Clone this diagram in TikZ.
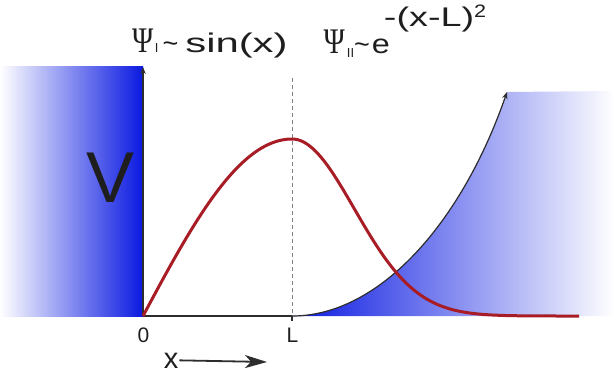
\documentclass[tikz,border=0pt]{standalone}
\usepackage{fontspec}
\usepackage{graphicx}
\setmainfont{Liberation Sans}
\newfontfamily\psifont{Liberation Serif}
\usetikzlibrary{arrows.meta}
\definecolor{wallblue}{RGB}{10,25,225}
\definecolor{psired}{RGB}{168,28,38}
\definecolor{axisgray}{RGB}{45,45,45}
\definecolor{txtgray}{RGB}{30,30,30}
\newcommand{\bigpsi}{{\psifont\fontsize{36}{36}\selectfont\scalebox{0.8}[1]{Ψ}}}
\begin{document}
\begin{tikzpicture}[x=1pt,y=-1pt,
  lbl/.style={inner sep=0pt, text=txtgray},
  axisline/.style={axisgray, line width=1.4pt},
  smalltip/.style={-{Stealth[length=7pt,width=5.5pt]}},
  wave/.style={psired, line width=3pt, line join=round}]
\useasboundingbox (0,0) rectangle (614,373);
% named points
\coordinate (O) at (143,316);
\coordinate (Ytop) at (143,67);
\coordinate (Lb) at (292,316);
\coordinate (Lt) at (292,78);
\coordinate (Ltick) at (292,321);
\coordinate (Tip) at (507,92);
\coordinate (Xend) at (267,362);
% left wall
\shade[left color=white, right color=wallblue] (0,66) rectangle (143,316);
% right wall under the curve
\shade[left color=wallblue, right color=white]
  (Lb) .. controls (380,316) and (462,222) .. (Tip) -- (614,91) -- (614,316) -- cycle;
% baseline and tick
\draw[axisline] (O) -- (Lb);
\draw[axisline] (Lb) -- (Ltick);
% dashed marker at L
\draw[gray, line width=0.7pt, dash pattern=on 4pt off 3pt] (Lt) -- (Lb);
% vertical axis
\draw[axisline, smalltip] (O) -- (Ytop);
% potential curve
\draw[axisline, line width=1.2pt, smalltip] (Lb) .. controls (380,316) and (462,222) .. (Tip);
% wave function
\draw[wave] plot[domain=143:292, samples=60] (\x, {316-177*sin((\x-143)/149*90)})
  -- plot[domain=292:579, samples=90] (\x, {316-177*exp(-((\x-292)/88)^2)});
% labels
\node[lbl, anchor=base west, font=\fontsize{27}{27}\selectfont] (t1) at (132,52)
  {\bigpsi\hspace{1.5pt}{\fontsize{13}{13}\selectfont I}\hspace{4pt}\textasciitilde\hspace{7pt}\scalebox{1.55}[1]{sin(x)}};
\node[lbl, anchor=base west, font=\fontsize{27}{27}\selectfont] (t2) at (323.5,53)
  {\bigpsi\hspace{2pt}\raisebox{-4pt}{\fontsize{13}{13}\selectfont II}\textasciitilde\hspace{2pt}\scalebox{1.2}[1]{e}\hspace{-6pt}\raisebox{27pt}{\scalebox{1.4}[1]{-(x-L)}\scalebox{1.2}[1]{\raisebox{9pt}{\fontsize{18}{18}\selectfont 2}}}};
\node[lbl, anchor=base, font=\fontsize{72}{72}\selectfont] (V) at (111,202) {V};
\node[lbl, anchor=base, font=\fontsize{21}{21}\selectfont] (zero) at (143.5,342) {0};
\node[lbl, anchor=base, font=\fontsize{21}{21}\selectfont] (Llab) at (292.5,342) {L};
\node[lbl, anchor=base, font=\fontsize{29}{29}\selectfont] (xlab) at (171,368) {x};
\draw[axisline, line width=1.8pt, -{Stealth[length=22pt,width=13pt,inset=6pt]}] (xlab.east) ++(1,0) -- (Xend);
\end{tikzpicture}
\end{document}
